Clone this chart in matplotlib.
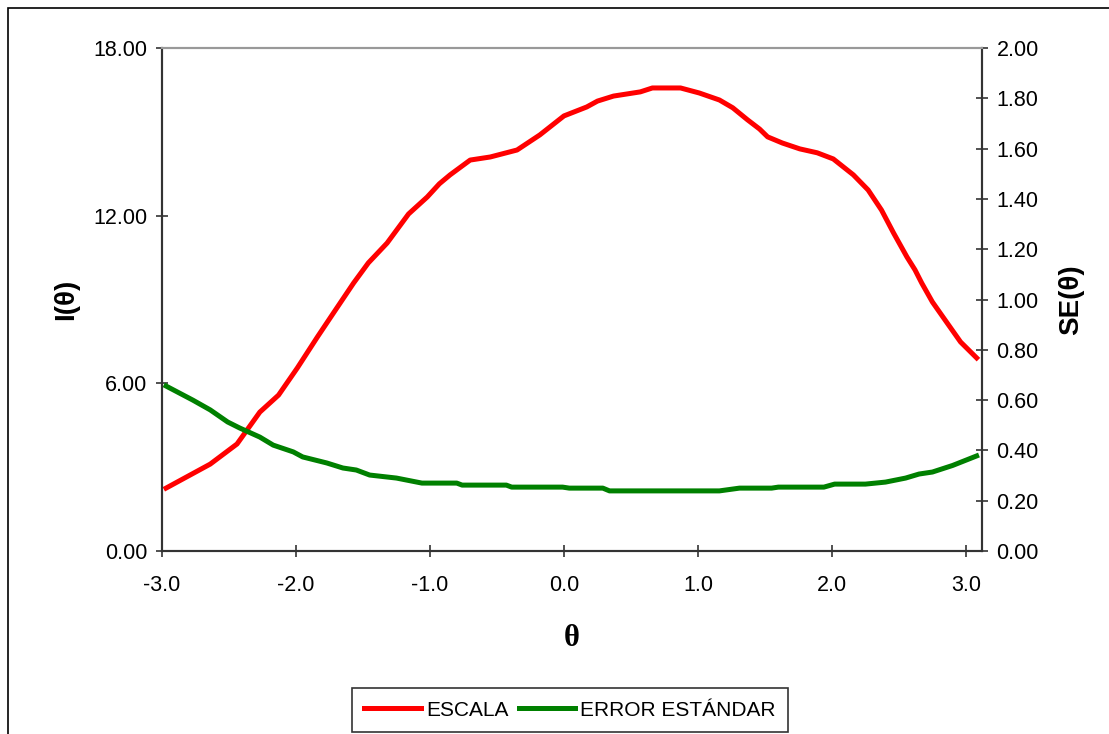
import matplotlib
matplotlib.use("Agg")
import matplotlib.pyplot as plt
from matplotlib.patches import Rectangle

plt.rcParams['font.family'] = ['Liberation Sans', 'DejaVu Sans']

# Information curve (left axis)
theta_info = [-2.97, -2.64, -2.44, -2.27, -2.13, -1.99, -1.84, -1.72, -1.57, -1.46,
              -1.32, -1.16, -1.02, -0.93, -0.85, -0.70, -0.55, -0.35, -0.18, 0.0,
              0.17, 0.25, 0.37, 0.57, 0.66, 0.87, 1.01, 1.16, 1.26, 1.37,
              1.46, 1.52, 1.63, 1.76, 1.89, 2.01, 2.16, 2.27, 2.37, 2.46,
              2.56, 2.62, 2.67, 2.75, 2.86, 2.96, 3.08]
info = [2.25, 3.11, 3.83, 4.97, 5.58, 6.55, 7.66, 8.52, 9.59, 10.31,
        11.02, 12.06, 12.67, 13.14, 13.46, 13.99, 14.10, 14.35, 14.89, 15.57,
        15.89, 16.10, 16.28, 16.43, 16.57, 16.57, 16.39, 16.14, 15.86, 15.43,
        15.10, 14.82, 14.60, 14.39, 14.25, 14.03, 13.46, 12.92, 12.20, 11.38,
        10.52, 10.06, 9.59, 8.91, 8.16, 7.48, 6.91]

# Standard error curve (right axis)
theta_se = [-2.97, -2.77, -2.64, -2.51, -2.42, -2.27, -2.17, -2.02, -1.95, -1.77,
            -1.65, -1.55, -1.45, -1.25, -1.06, -0.93, -0.80, -0.76, -0.43, -0.39,
            -0.01, 0.04, 0.29, 0.34, 1.16, 1.31, 1.55, 1.60, 1.94, 2.02,
            2.25, 2.40, 2.55, 2.65, 2.75, 2.90, 3.08]
se = [0.656, 0.600, 0.561, 0.513, 0.489, 0.453, 0.421, 0.394, 0.374, 0.350,
      0.330, 0.322, 0.302, 0.290, 0.270, 0.270, 0.270, 0.262, 0.262, 0.254,
      0.254, 0.250, 0.250, 0.239, 0.239, 0.250, 0.250, 0.254, 0.254, 0.266,
      0.266, 0.274, 0.290, 0.306, 0.314, 0.340, 0.378]

x_ticks = [-3.0, -2.0, -1.0, 0.0, 1.0, 2.0, 3.0]
left_ticks = [0, 6, 12, 18]
right_ticks = [0.0, 0.2, 0.4, 0.6, 0.8, 1.0, 1.2, 1.4, 1.6, 1.8, 2.0]

fig = plt.figure(figsize=(11.09, 7.34), dpi=100)
fig.patches.append(Rectangle((8 / 1109, -0.05), 1.2, 1 - 8 / 734 + 0.05,
                             transform=fig.transFigure, fill=False,
                             edgecolor='black', linewidth=1.2))

ax = fig.add_axes([162 / 1109, 1 - 551 / 734, 820 / 1109, 503 / 734])
ax2 = ax.twinx()

l1, = ax.plot(theta_info, info, color='#ff0000', lw=3.6, label='ESCALA')
l2, = ax2.plot(theta_se, se, color='#008000', lw=3.6, label='ERROR ESTÁNDAR')

ax.set_xlim(-3.0, 3.12)
ax.set_ylim(0, 18)
ax2.set_ylim(0, 2.0)
ax.set_xticks(x_ticks)
ax.set_xticklabels([f'{v:.1f}' for v in x_ticks])
ax.set_yticks(left_ticks)
ax.set_yticklabels([f'{v:.2f}' for v in left_ticks])
ax2.set_yticks(right_ticks)
ax2.set_yticklabels([f'{v:.2f}' for v in right_ticks])

for a in (ax, ax2):
    a.tick_params(direction='inout', length=9, width=1.2, labelsize=15.5,
                  color='#333333', pad=6)
    a.spines['top'].set_color('#999999')
    a.spines['top'].set_linewidth(1.5)
    for s in ('left', 'right', 'bottom'):
        a.spines[s].set_color('#333333')
        a.spines[s].set_linewidth(1.5)
ax.tick_params(axis='x', pad=13)

ax.set_ylabel('I(θ)', fontsize=20, fontweight='bold', labelpad=10)
ax2.set_ylabel('SE(θ)', fontsize=20, fontweight='bold', labelpad=14)
ax.set_xlabel('θ', fontsize=22, fontweight='bold', family='Liberation Serif',
              labelpad=20)

leg = fig.legend(handles=[l1, l2], loc='center', ncol=2,
                 bbox_to_anchor=(570 / 1109, 1 - 710 / 734), fontsize=15,
                 frameon=True, fancybox=False, edgecolor='black',
                 handlelength=2.7, handletextpad=0.25, columnspacing=0.5,
                 borderpad=0.6)
leg.get_frame().set_linewidth(1.2)

fig.savefig('out.png', dpi=100)
